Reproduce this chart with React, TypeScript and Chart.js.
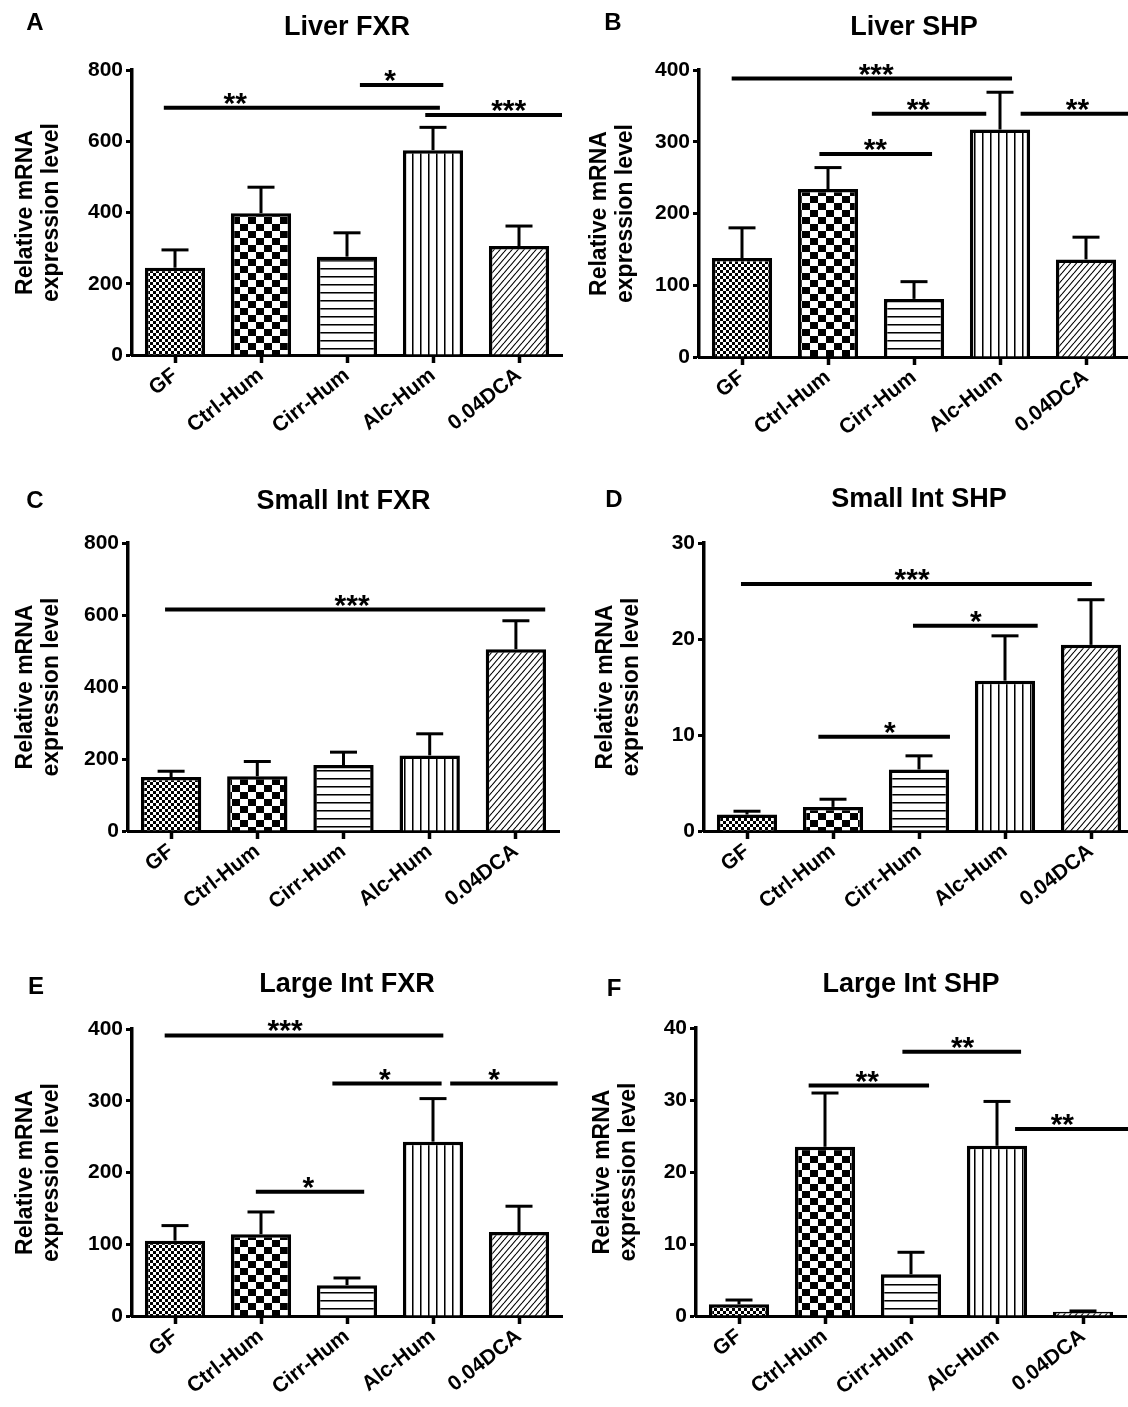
import React, { useEffect, useRef } from 'react';
import { Chart, registerables } from 'chart.js';

Chart.register(...registerables);

// ---------------- data ----------------
const CATEGORIES = ['GF', 'Ctrl-Hum', 'Cirr-Hum', 'Alc-Hum', '0.04DCA'];

// significance rows: [from category, to category, y value, label, label position]
const liverFxrMean = [245, 398, 276, 575, 306];
const liverFxrSem = [50, 73, 67, 64, 56];
const liverFxrTicks = [0, 200, 400, 600, 800];
const liverFxrSig: any[] = [
  [-0.13, 3.08, 694, '**', 0.7],
  [2.15, 3.12, 758, '*', 2.5],
  [2.91, 4.5, 674, '***', 3.88],
];

const liverShpMean = [138, 234, 81, 317, 136];
const liverShpSem = [42, 30, 24, 52, 31];
const liverShpTicks = [0, 100, 200, 300, 400];
const liverShpSig: any[] = [
  [-0.12, 3.14, 388, '***', 1.56],
  [1.51, 2.84, 339, '**', 2.05],
  [0.9, 2.21, 283, '**', 1.55],
  [3.24, 4.7, 339, '**', 3.9],
];

const smallFxrMean = [150, 152, 183, 210, 505];
const smallFxrSem = [16, 41, 36, 60, 79];
const smallFxrTicks = [0, 200, 400, 600, 800];
const smallFxrSig: any[] = [[-0.07, 4.34, 615, '***', 2.1]];

const smallShpMean = [1.71, 2.51, 6.41, 15.66, 19.39];
const smallShpSem = [0.35, 0.8, 1.42, 4.67, 4.7];
const smallShpTicks = [0, 10, 20, 30];
const smallShpSig: any[] = [
  [-0.07, 4.01, 25.72, '***', 1.92],
  [1.93, 3.38, 21.37, '*', 2.66],
  [0.83, 2.36, 9.81, '*', 1.66],
];

const largeFxrMean = [105, 114, 43, 243, 117];
const largeFxrSem = [21, 31, 10, 60, 36];
const largeFxrTicks = [0, 100, 200, 300, 400];
const largeFxrSig: any[] = [
  [-0.12, 3.12, 391, '***', 1.28],
  [1.83, 3.1, 324, '*', 2.44],
  [3.2, 4.45, 324, '*', 3.71],
  [0.94, 2.2, 173, '*', 1.55],
];

const largeShpMean = [1.62, 23.5, 5.79, 23.64, 0.6];
const largeShpSem = [0.6, 7.47, 3.06, 6.16, 0.1];
const largeShpTicks = [0, 10, 20, 30, 40];
const largeShpSig: any[] = [
  [0.81, 2.21, 32.0, '**', 1.49],
  [1.9, 3.28, 36.7, '**', 2.6],
  [3.21, 4.7, 25.96, '**', 3.76],
];

const Y_TITLE = ['Relative mRNA', 'expression level'];

// ---------------- layout ----------------
const FONT = '"Liberation Sans", Arial, Helvetica, sans-serif';

const PANELS: any[] = [
  { letter: 'A', title: 'Liver FXR', mean: liverFxrMean, sem: liverFxrSem, ticks: liverFxrTicks, sig: liverFxrSig,
    box: { x: 0, y: 0, w: 570, h: 470 }, plot: { l: 132, r: 562, t: 70, b: 355 }, letterPos: [35, 23], titleY: 28, yTitleX: 32 },
  { letter: 'B', title: 'Liver SHP', mean: liverShpMean, sem: liverShpSem, ticks: liverShpTicks, sig: liverShpSig,
    box: { x: 570, y: 0, w: 570, h: 470 }, plot: { l: 699, r: 1129, t: 70, b: 357 }, letterPos: [613, 23], titleY: 28, yTitleX: 606 },
  { letter: 'C', title: 'Small Int FXR', mean: smallFxrMean, sem: smallFxrSem, ticks: smallFxrTicks, sig: smallFxrSig,
    box: { x: 0, y: 470, w: 570, h: 490 }, plot: { l: 128, r: 559, t: 543, b: 831 }, letterPos: [35, 501], titleY: 502, yTitleX: 32 },
  { letter: 'D', title: 'Small Int SHP', mean: smallShpMean, sem: smallShpSem, ticks: smallShpTicks, sig: smallShpSig,
    box: { x: 570, y: 470, w: 570, h: 490 }, plot: { l: 704, r: 1134, t: 543, b: 831 }, letterPos: [614, 500], titleY: 500, yTitleX: 612 },
  { letter: 'E', title: 'Large Int FXR', mean: largeFxrMean, sem: largeFxrSem, ticks: largeFxrTicks, sig: largeFxrSig,
    box: { x: 0, y: 960, w: 570, h: 447 }, plot: { l: 132, r: 562, t: 1029, b: 1316 }, letterPos: [36, 987], titleY: 985, yTitleX: 32 },
  { letter: 'F', title: 'Large Int SHP', mean: largeShpMean, sem: largeShpSem, ticks: largeShpTicks, sig: largeShpSig,
    box: { x: 570, y: 960, w: 570, h: 447 }, plot: { l: 696, r: 1126, t: 1028, b: 1316 }, letterPos: [614, 989], titleY: 985, yTitleX: 609 },
];

function makePattern(ctx: CanvasRenderingContext2D, kind: number): any {
  const c = document.createElement('canvas');
  let w = 6, h = 6;
  if (kind === 1) { w = 16; h = 14; }
  if (kind === 2) { w = 8; h = 8; }
  if (kind === 3) { w = 8; h = 8; }
  if (kind === 4) { w = 6; h = 7; }
  c.width = w; c.height = h;
  const g = c.getContext('2d')!;
  g.fillStyle = '#fff';
  g.fillRect(0, 0, w, h);
  g.fillStyle = '#000';
  g.strokeStyle = '#000';
  if (kind === 0) { g.fillRect(0, 0, 3, 3); g.fillRect(3, 3, 3, 3); }
  if (kind === 1) { g.fillRect(0, 0, 8, 7); g.fillRect(8, 7, 8, 7); }
  if (kind === 2) { g.fillRect(0, 4, 8, 1); g.fillStyle = '#777'; g.fillRect(0, 5, 8, 1); }
  if (kind === 3) { g.fillRect(4, 0, 1, 8); g.fillStyle = '#777'; g.fillRect(5, 0, 1, 8); }
  if (kind === 4) {
    g.lineWidth = 1.1;
    for (const o of [-w, 0, w]) {
      g.beginPath(); g.moveTo(o, h); g.lineTo(o + w, 0); g.stroke();
    }
  }
  return ctx.createPattern(c, 'repeat');
}

function PanelChart({ p }: { p: any }) {
  const ref = useRef<HTMLCanvasElement>(null);

  useEffect(() => {
    const canvas = ref.current!;
    const ctx = canvas.getContext('2d')!;
    const toBx = (x: number) => x - p.box.x;
    const toBy = (y: number) => y - p.box.y;
    const patterns = [0, 1, 2, 3, 4].map((k) => makePattern(ctx, k));
    const yAxisW = toBx(p.plot.l);
    const xAxisH = p.box.h - toBy(p.plot.b);
    const padTop = toBy(p.plot.t);
    const padRight = p.box.w - toBx(p.plot.r);
    const yMax = p.ticks[p.ticks.length - 1];
    const yStep = p.ticks[1] - p.ticks[0];

    const deco = {
      id: 'deco' + p.letter,
      afterDatasetsDraw(chart: any) {
        const meta = chart.getDatasetMeta(0);
        const ys = chart.scales.y;
        const c = chart.ctx;
        c.save();
        c.strokeStyle = '#000';
        c.lineCap = 'butt';
        meta.data.forEach((bar: any, i: number) => {
          const x = bar.x;
          const yTop = ys.getPixelForValue(p.mean[i] + p.sem[i]);
          c.lineWidth = 3;
          c.beginPath(); c.moveTo(x, bar.y); c.lineTo(x, yTop); c.stroke();
          c.beginPath(); c.moveTo(x - 13.5, yTop); c.lineTo(x + 13.5, yTop); c.stroke();
        });
        c.restore();
      },
      afterDraw(chart: any) {
        const c = chart.ctx;
        const area = chart.chartArea;
        const xs = chart.scales.x;
        const ys = chart.scales.y;
        c.save();
        c.fillStyle = '#000';
        c.strokeStyle = '#000';
        // title
        c.font = `bold 27px ${FONT}`;
        c.textAlign = 'center';
        c.textBaseline = 'middle';
        c.fillText(p.title, (area.left + area.right) / 2, toBy(p.titleY));
        // panel letter
        c.font = `bold 24px ${FONT}`;
        c.fillText(p.letter, toBx(p.letterPos[0]), toBy(p.letterPos[1]));
        // y axis title
        c.save();
        c.font = `bold 23px ${FONT}`;
        c.translate(toBx(p.yTitleX), (area.top + area.bottom) / 2);
        c.rotate(-Math.PI / 2);
        c.textBaseline = 'alphabetic';
        c.textAlign = 'center';
        c.fillText(Y_TITLE[0], 0, 0);
        c.fillText(Y_TITLE[1], 0, 26);
        c.restore();
        // significance bars
        c.lineWidth = 4;
        c.lineCap = 'butt';
        c.font = `bold 30px ${FONT}`;
        c.textAlign = 'center';
        c.textBaseline = 'alphabetic';
        for (const row of p.sig) {
          const [from, to, yv, text, at] = row;
          const y = ys.getPixelForValue(yv);
          c.beginPath();
          c.moveTo(xs.getPixelForValue(from), y);
          c.lineTo(xs.getPixelForValue(to), y);
          c.stroke();
          c.fillText(text, xs.getPixelForValue(at), y + 5);
        }
        c.restore();
      },
    };

    const chart = new Chart(canvas, {
      type: 'bar',
      data: {
        labels: CATEGORIES,
        datasets: [{
          data: p.mean,
          backgroundColor: patterns,
          borderColor: '#000',
          borderWidth: 3.5,
          barPercentage: 0.7,
          categoryPercentage: 1,
        }],
      },
      options: {
        animation: false,
        responsive: false,
        devicePixelRatio: 1,
        events: [],
        layout: { padding: { left: 0, top: padTop, right: padRight, bottom: 0 } },
        plugins: { legend: { display: false }, tooltip: { enabled: false }, title: { display: false } },
        scales: {
          x: {
            type: 'category',
            offset: true,
            z: 1,
            grid: { display: true, drawOnChartArea: false, drawTicks: true, offset: false, tickLength: 8, tickWidth: 3.5, tickColor: '#000', color: '#000' },
            border: { display: true, color: '#000', width: 3 },
            ticks: { color: '#000', font: { family: FONT, size: 21, weight: 'bold' }, minRotation: 38, maxRotation: 38, autoSkip: false, padding: 0 },
            afterFit: (s: any) => { s.height = xAxisH; },
          },
          y: {
            min: 0,
            max: yMax,
            grid: { display: true, drawOnChartArea: false, drawTicks: true, tickLength: 6, tickWidth: 3, tickColor: '#000', color: '#000' },
            border: { display: true, color: '#000', width: 3.5 },
            ticks: { stepSize: yStep, color: '#000', font: { family: FONT, size: 21, weight: 'bold' }, padding: 3 },
            afterFit: (s: any) => { s.width = yAxisW; },
          },
        },
      } as any,
      plugins: [deco],
    } as any);
    return () => chart.destroy();
  }, []);

  return (
    <canvas
      ref={ref}
      width={p.box.w}
      height={p.box.h}
      style={{ position: 'absolute', left: p.box.x, top: p.box.y, width: p.box.w, height: p.box.h }}
    />
  );
}

export default function App() {
  return (
    <div style={{ position: 'absolute', left: 0, top: 0, width: 1128, height: 1407, overflow: 'hidden', background: '#fff' }}>
      {PANELS.map((p) => <PanelChart key={p.letter} p={p} />)}
    </div>
  );
}
